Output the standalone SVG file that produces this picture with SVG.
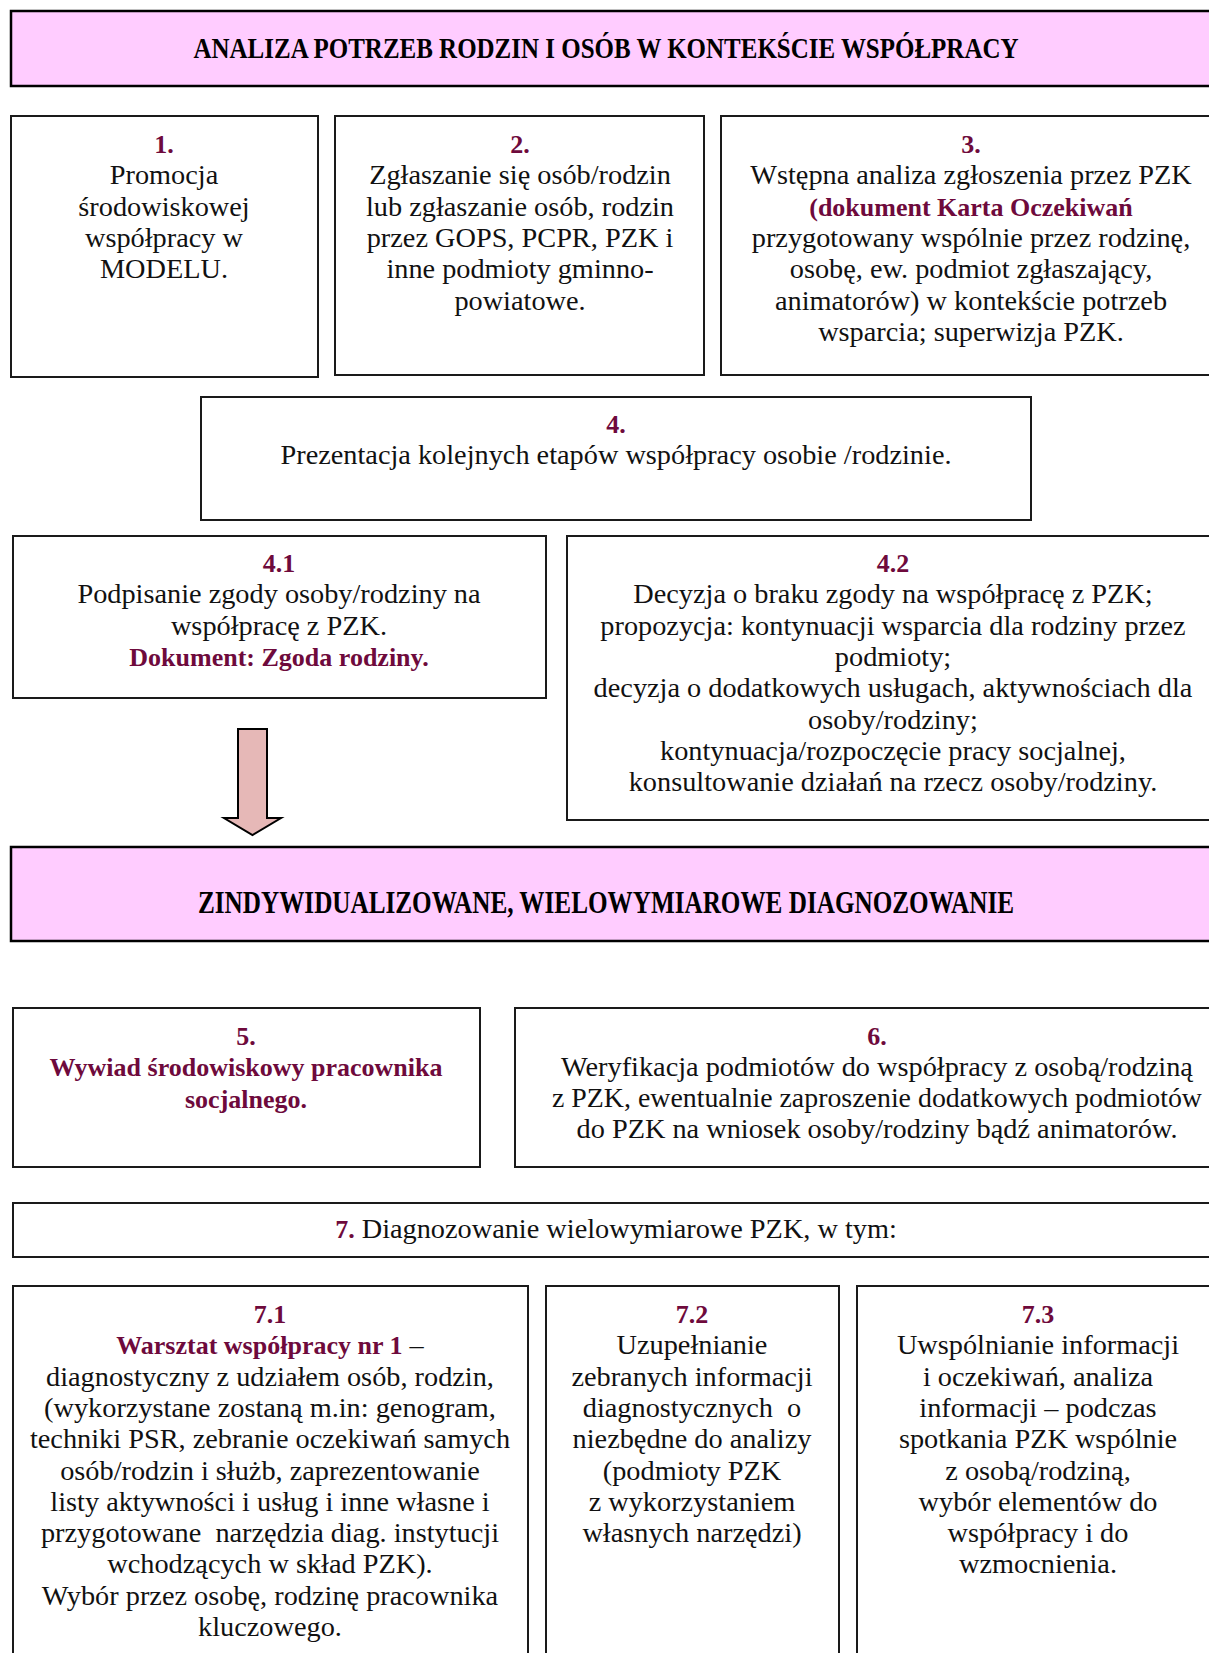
<svg xmlns="http://www.w3.org/2000/svg" width="1209" height="1653" viewBox="0 0 1209 1653">
<style>
.bg{fill:#ffffff}
.box{fill:#ffffff;stroke:#1a1a1a;stroke-width:2}
.hdr{fill:#FFCCFF;stroke:#000;stroke-width:2.5}
.t{font-family:"Liberation Serif","Times New Roman",serif;font-size:28.3px;fill:#111;text-anchor:middle}
.n{font-weight:bold;fill:#6E0A3C;font-size:26px}
.h{font-family:"Liberation Serif","Times New Roman",serif;font-size:31px;font-weight:bold;fill:#000;text-anchor:middle}
.arrow{fill:#E6B8B7;stroke:#000;stroke-width:2}
</style>
<rect class="bg" x="0" y="0" width="1209" height="1653"/>

<g id="header1">
<rect class="hdr" x="11" y="11" width="1210" height="75"/>
<text class="h" x="606" y="58" style="font-size:29px" textLength="825" lengthAdjust="spacingAndGlyphs">ANALIZA POTRZEB RODZIN I OSÓB W KONTEKŚCIE WSPÓŁPRACY</text>
</g>

<g id="node1">
<rect class="box" x="11" y="116" width="307" height="261"/>
<text class="t" x="164" y="153"><tspan class="n">1.</tspan><tspan x="164" dy="31.3">Promocja</tspan><tspan x="164" dy="31.3">środowiskowej</tspan><tspan x="164" dy="31.3">współpracy w</tspan><tspan x="164" dy="31.3">MODELU.</tspan></text>
</g>

<g id="node2">
<rect class="box" x="335" y="116" width="369" height="259"/>
<text class="t" x="520" y="153"><tspan class="n">2.</tspan><tspan x="520" dy="31.3">Zgłaszanie się osób/rodzin</tspan><tspan x="520" dy="31.3">lub zgłaszanie osób, rodzin</tspan><tspan x="520" dy="31.3">przez GOPS, PCPR, PZK i</tspan><tspan x="520" dy="31.3">inne podmioty gminno-</tspan><tspan x="520" dy="31.3">powiatowe.</tspan></text>
</g>

<g id="node3">
<rect class="box" x="721" y="116" width="500" height="259"/>
<text class="t" x="971" y="153"><tspan class="n">3.</tspan><tspan x="971" dy="31.3">Wstępna analiza zgłoszenia przez PZK</tspan><tspan x="971" dy="31.3" class="n">(dokument Karta Oczekiwań</tspan><tspan x="971" dy="31.3">przygotowany wspólnie przez rodzinę,</tspan><tspan x="971" dy="31.3">osobę, ew. podmiot zgłaszający,</tspan><tspan x="971" dy="31.3">animatorów) w kontekście potrzeb</tspan><tspan x="971" dy="31.3">wsparcia; superwizja PZK.</tspan></text>
</g>

<g id="node4">
<rect class="box" x="201" y="397" width="830" height="123"/>
<text class="t" x="616" y="433"><tspan class="n">4.</tspan><tspan x="616" dy="31.3">Prezentacja kolejnych etapów współpracy osobie /rodzinie.</tspan></text>
</g>

<g id="node4_1">
<rect class="box" x="13" y="536" width="533" height="162"/>
<text class="t" x="279" y="572"><tspan class="n">4.1</tspan><tspan x="279" dy="31.3">Podpisanie zgody osoby/rodziny na</tspan><tspan x="279" dy="31.3">współpracę z PZK.</tspan><tspan x="279" dy="31.3" class="n">Dokument: Zgoda rodziny.</tspan></text>
</g>

<g id="node4_2">
<rect class="box" x="567" y="536" width="654" height="284"/>
<text class="t" x="893" y="572"><tspan class="n">4.2</tspan><tspan x="893" dy="31.3">Decyzja o braku zgody na współpracę z PZK;</tspan><tspan x="893" dy="31.3">propozycja: kontynuacji wsparcia dla rodziny przez</tspan><tspan x="893" dy="31.3">podmioty;</tspan><tspan x="893" dy="31.3">decyzja o dodatkowych usługach, aktywnościach dla</tspan><tspan x="893" dy="31.3">osoby/rodziny;</tspan><tspan x="893" dy="31.3">kontynuacja/rozpoczęcie pracy socjalnej,</tspan><tspan x="893" dy="31.3">konsultowanie działań na rzecz osoby/rodziny.</tspan></text>
</g>

<g id="connectors">
<polygon class="arrow" points="238,729 267,729 267,818 281,818 252.5,835 224,818 238,818"/>
</g>

<g id="header2">
<rect class="hdr" x="11" y="847" width="1210" height="94"/>
<text class="h" x="606" y="913" textLength="816" lengthAdjust="spacingAndGlyphs">ZINDYWIDUALIZOWANE, WIELOWYMIAROWE DIAGNOZOWANIE</text>
</g>

<g id="node5">
<rect class="box" x="13" y="1008" width="467" height="159"/>
<text class="t" x="246" y="1045"><tspan class="n">5.</tspan><tspan x="246" dy="31.3" class="n">Wywiad środowiskowy pracownika</tspan><tspan x="246" dy="31.3" class="n">socjalnego.</tspan></text>
</g>

<g id="node6">
<rect class="box" x="515" y="1008" width="706" height="159"/>
<text class="t" x="877" y="1045"><tspan class="n">6.</tspan><tspan x="877" dy="31.3">Weryfikacja podmiotów do współpracy z osobą/rodziną</tspan></text>
<text class="t" x="877" y="1107" textLength="650" lengthAdjust="spacingAndGlyphs">z PZK, ewentualnie zaproszenie dodatkowych podmiotów</text>
<text class="t" x="877" y="1138">do PZK na wniosek osoby/rodziny bądź animatorów.</text>
</g>

<g id="node7">
<rect class="box" x="13" y="1203" width="1208" height="54"/>
<text class="t" x="616" y="1238"><tspan class="n">7.</tspan> Diagnozowanie wielowymiarowe PZK, w tym:</text>
</g>

<g id="node7_1">
<rect class="box" x="13" y="1286" width="515" height="400"/>
<text class="t" x="270" y="1323"><tspan class="n">7.1</tspan><tspan x="270" dy="31.3"><tspan class="n">Warsztat współpracy nr 1</tspan> –</tspan><tspan x="270" dy="31.3">diagnostyczny z udziałem osób, rodzin,</tspan><tspan x="270" dy="31.3">(wykorzystane zostaną m.in: genogram,</tspan><tspan x="270" dy="31.3">techniki PSR, zebranie oczekiwań samych</tspan><tspan x="270" dy="31.3">osób/rodzin i służb, zaprezentowanie</tspan><tspan x="270" dy="31.3">listy aktywności i usług i inne własne i</tspan><tspan x="270" dy="31.3" xml:space="preserve">przygotowane  narzędzia diag. instytucji</tspan><tspan x="270" dy="31.3">wchodzących w skład PZK).</tspan><tspan x="270" dy="31.3">Wybór przez osobę, rodzinę pracownika</tspan><tspan x="270" dy="31.3">kluczowego.</tspan></text>
</g>

<g id="node7_2">
<rect class="box" x="546" y="1286" width="293" height="400"/>
<text class="t" x="692" y="1323"><tspan class="n">7.2</tspan><tspan x="692" dy="31.3">Uzupełnianie</tspan><tspan x="692" dy="31.3">zebranych informacji</tspan><tspan x="692" dy="31.3" xml:space="preserve">diagnostycznych  o</tspan><tspan x="692" dy="31.3">niezbędne do analizy</tspan><tspan x="692" dy="31.3">(podmioty PZK</tspan><tspan x="692" dy="31.3">z wykorzystaniem</tspan><tspan x="692" dy="31.3">własnych narzędzi)</tspan></text>
</g>

<g id="node7_3">
<rect class="box" x="857" y="1286" width="364" height="400"/>
<text class="t" x="1038" y="1323"><tspan class="n">7.3</tspan><tspan x="1038" dy="31.3">Uwspólnianie informacji</tspan><tspan x="1038" dy="31.3">i oczekiwań, analiza</tspan><tspan x="1038" dy="31.3">informacji – podczas</tspan><tspan x="1038" dy="31.3">spotkania PZK wspólnie</tspan><tspan x="1038" dy="31.3">z osobą/rodziną,</tspan><tspan x="1038" dy="31.3">wybór elementów do</tspan><tspan x="1038" dy="31.3">współpracy i do</tspan><tspan x="1038" dy="31.3">wzmocnienia.</tspan></text>
</g>
</svg>
